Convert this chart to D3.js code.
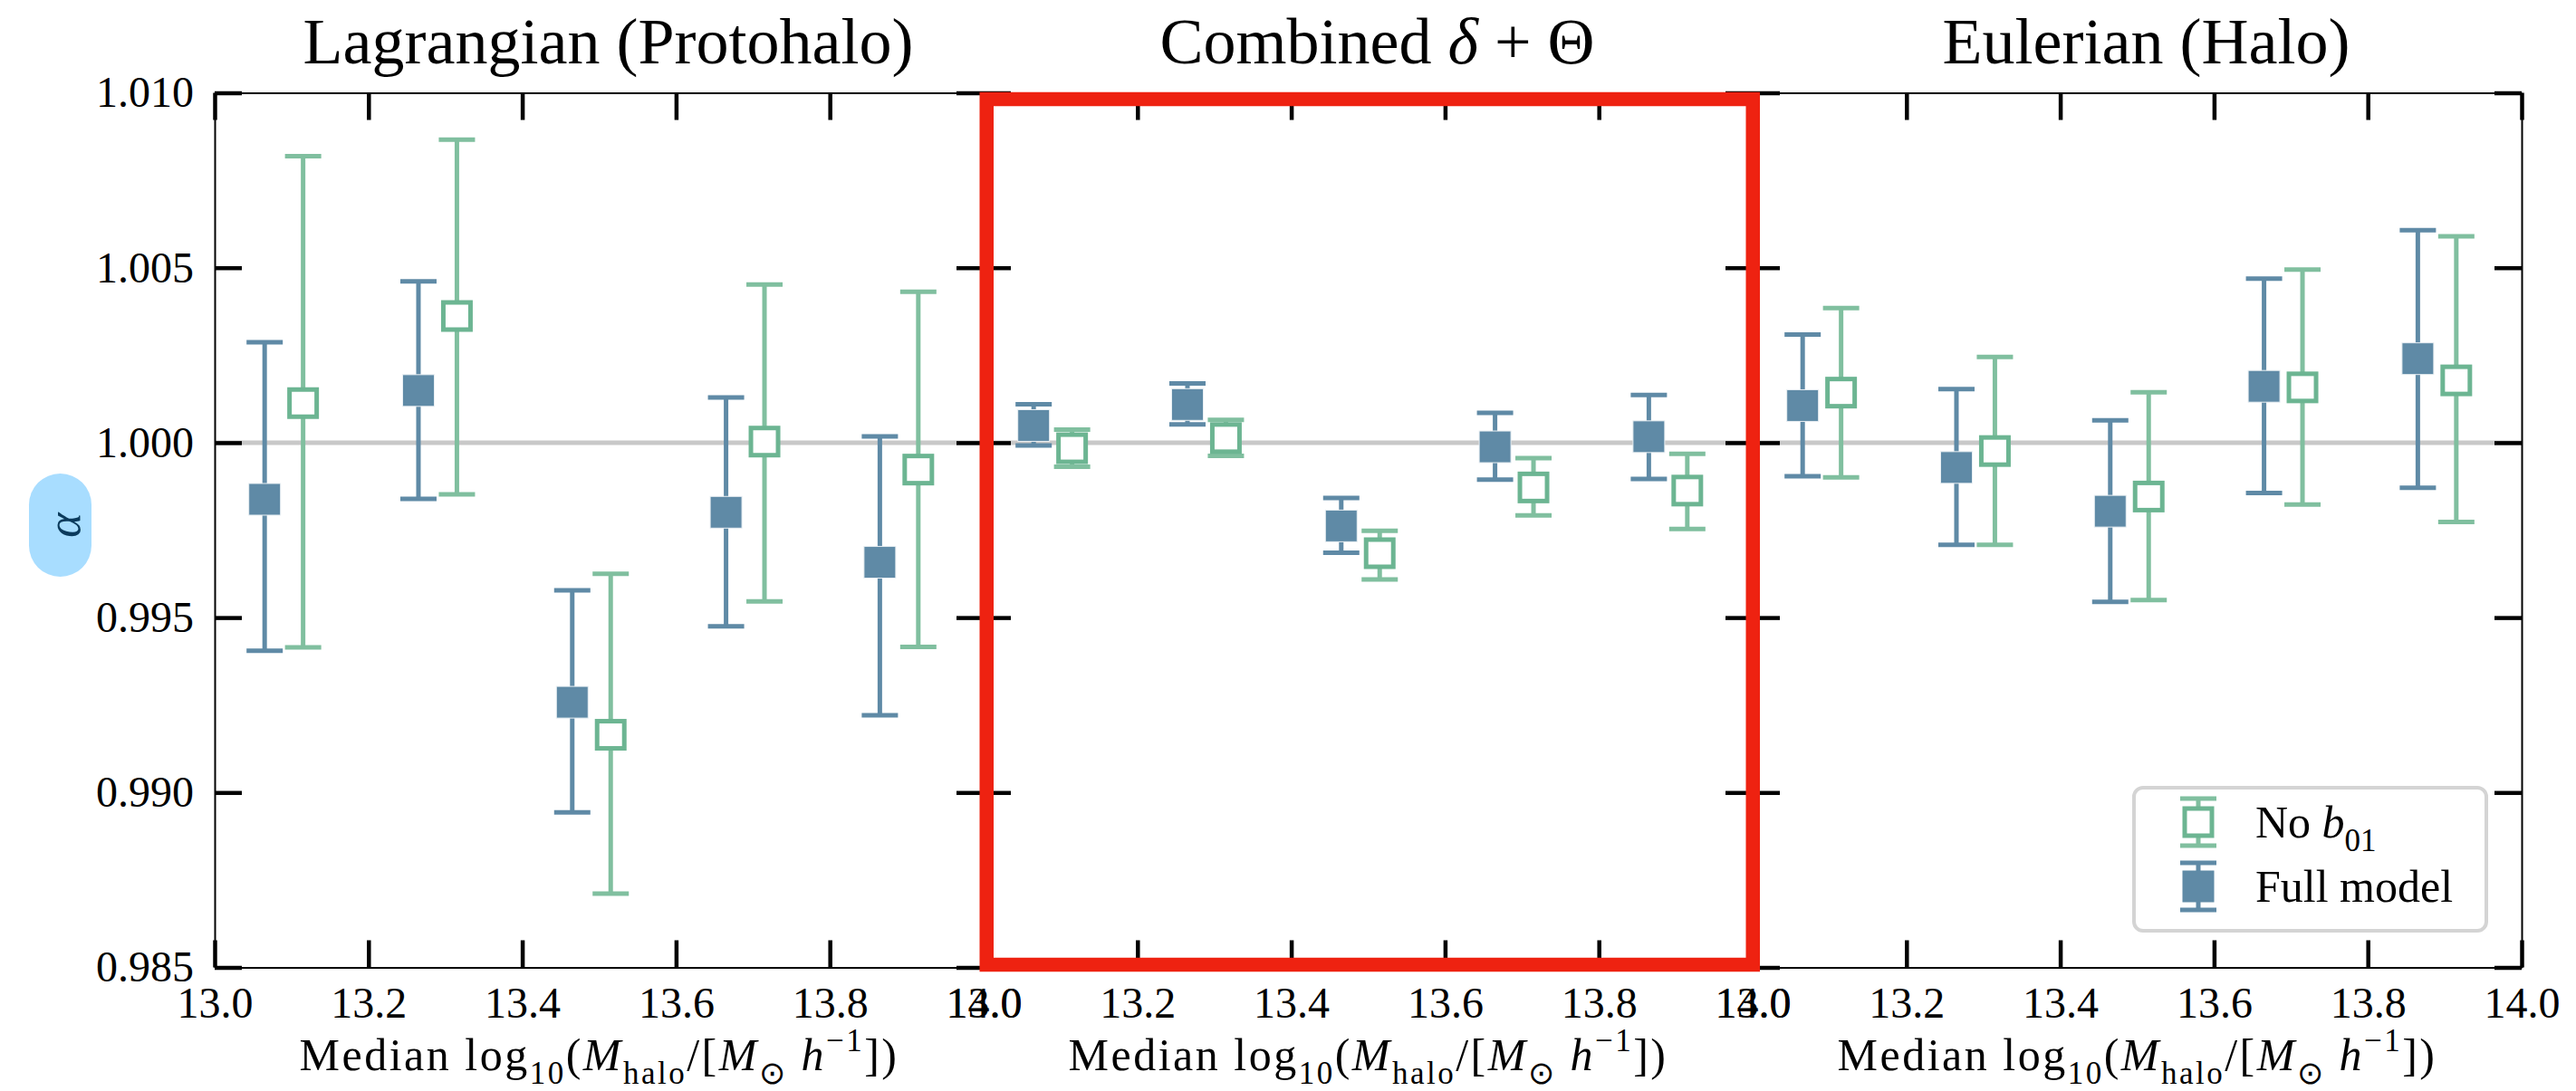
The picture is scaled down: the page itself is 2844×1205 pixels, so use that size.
<!doctype html>
<head>
  <meta charset="utf-8">
  <script src="https://cdnjs.cloudflare.com/ajax/libs/d3/7.8.2/d3.min.js"></script>
</head>
<style>
    body { margin: 0; background: #fff; }
    svg text, svg tspan { font-family: "Liberation Serif", serif; white-space: pre; }
</style>
<body>
    <div id="chart"></div>
    <script>
        // Datos
        const panelTitles = ["Lagrangian (Protohalo)", "Combined δ + Θ", "Eulerian (Halo)"];
        const xTicks = [13.0, 13.2, 13.4, 13.6, 13.8, 14.0];
        const yTicks = [0.985, 0.990, 0.995, 1.000, 1.005, 1.010];
        const seriesNames = ["No b01", "Full model"];

        const massFull = [13.065, 13.265, 13.465, 13.665, 13.865];
        const massNoB01 = [13.115, 13.315, 13.515, 13.715, 13.915];

        // una fila por panel: Lagrangian, Combined, Eulerian
        const alphaFull = [
            [0.99838, 1.00149, 0.99258, 0.99801, 0.99658],
            [1.00049, 1.00109, 0.99762, 0.99988, 1.00017],
            [1.00106, 0.99929, 0.99804, 1.00161, 1.00240],
        ];
        const hiFull = [
            [1.00287, 1.00461, 0.99578, 1.00129, 1.00018],
            [1.00110, 1.00169, 0.99842, 1.00085, 1.00136],
            [1.00309, 1.00153, 1.00064, 1.00469, 1.00607],
        ];
        const loFull = [
            [0.99405, 0.99839, 0.98943, 0.99475, 0.99221],
            [0.99992, 1.00052, 0.99685, 0.99894, 0.99896],
            [0.99904, 0.99708, 0.99545, 0.99856, 0.99871],
        ];
        const alphaNoB01 = [
            [1.00113, 1.00362, 0.99165, 1.00003, 0.99923],
            [0.99984, 1.00013, 0.99684, 0.99872, 0.99863],
            [1.00143, 0.99976, 0.99846, 1.00158, 1.00178],
        ];
        const hiNoB01 = [
            [1.00819, 1.00866, 0.99625, 1.00452, 1.00431],
            [1.00037, 1.00065, 0.99748, 0.99956, 0.99968],
            [1.00385, 1.00245, 1.00144, 1.00495, 1.00590],
        ];
        const loNoB01 = [
            [0.99415, 0.99852, 0.98711, 0.99546, 0.99416],
            [0.99931, 0.99962, 0.99609, 0.99792, 0.99753],
            [0.99901, 0.99708, 0.99550, 0.99823, 0.99773],
        ];

        const W = 2844, H = 1205;
        const panelLeft = 237, panelW = 849;
        const blue = '#5f8aa6', green = '#80bf9f', greenEdge = '#6cb592';
        const serif = '"Liberation Serif", serif';

        const svg = d3.select('#chart').append('svg')
            .attr('width', W)
            .attr('height', H)
            .attr('font-family', serif);

        const y = d3.scaleLinear().domain([0.985, 1.010]).range([1068.5, 102.5]);

        function drawSeries(g, x, mass, vals, lo, hi, color, open) {
            const pts = mass.map((m, i) => ({m, v: vals[i], lo: lo[i], hi: hi[i]}));
            const s = g.append('g');
            s.selectAll('.bar').data(pts).enter().append('line')
                .attr('x1', d => x(d.m)).attr('x2', d => x(d.m))
                .attr('y1', d => y(d.lo)).attr('y2', d => y(d.hi))
                .attr('stroke', color).attr('stroke-width', 5);
            ['lo', 'hi'].forEach(k => {
                s.selectAll('.cap-' + k).data(pts).enter().append('line')
                    .attr('x1', d => x(d.m) - 20).attr('x2', d => x(d.m) + 20)
                    .attr('y1', d => y(d[k])).attr('y2', d => y(d[k]))
                    .attr('stroke', color).attr('stroke-width', 5);
            });
            if (open) {
                s.selectAll('.mk').data(pts).enter().append('rect')
                    .attr('x', d => x(d.m) - 15).attr('y', d => y(d.v) - 15)
                    .attr('width', 30).attr('height', 30)
                    .attr('fill', '#fff').attr('stroke', greenEdge).attr('stroke-width', 5);
            } else {
                s.selectAll('.mk').data(pts).enter().append('rect')
                    .attr('x', d => x(d.m) - 17.5).attr('y', d => y(d.v) - 17.5)
                    .attr('width', 35).attr('height', 35)
                    .attr('fill', color).attr('stroke', '#e9eff3').attr('stroke-width', 1);
            }
        }

        function styleAxis(a) {
            a.attr('font-size', 48).attr('font-family', serif);
            a.select('.domain').attr('stroke', '#000').attr('stroke-width', 2);
            a.selectAll('.tick line').attr('stroke', '#000').attr('stroke-width', 4.5);
            a.selectAll('.tick text').attr('fill', '#000');
        }

        // texto con subindices / superindices mediante tspans
        function richText(t, parts, size) {
            let shift = 0;
            parts.forEach(p => {
                const target = p.sub ? 0.3 * size : (p.sup ? -0.42 * size : 0);
                const ts = t.append('tspan').text(p.t)
                    .attr('dy', target - shift)
                    .attr('font-size', (p.sub || p.sup) ? size * 0.7 : size);
                if (p.it) ts.attr('font-style', 'italic');
                shift = target;
            });
        }

        const xLabelParts = [
            {t: 'Median log'}, {t: '10', sub: true}, {t: '('}, {t: 'M', it: true},
            {t: 'halo', sub: true}, {t: '/['}, {t: 'M', it: true}, {t: '⊙', sub: true},
            {t: ' '}, {t: 'h', it: true}, {t: '−1', sup: true}, {t: '])'},
        ];
        const titleParts = [
            [{t: 'Lagrangian (Protohalo)'}],
            [{t: 'Combined '}, {t: 'δ', it: true}, {t: ' + Θ'}],
            [{t: 'Eulerian (Halo)'}],
        ];

        panelTitles.forEach((title, p) => {
            const x0 = panelLeft + p * panelW;
            const x = d3.scaleLinear().domain([13, 14]).range([x0, x0 + panelW]);
            const g = svg.append('g');

            // linea de referencia alpha = 1
            g.append('line')
                .attr('x1', x(13)).attr('x2', x(14))
                .attr('y1', y(1)).attr('y2', y(1))
                .attr('stroke', '#c8c8c8').attr('stroke-width', 5);

            drawSeries(g, x, massNoB01, alphaNoB01[p], loNoB01[p], hiNoB01[p], green, true);
            drawSeries(g, x, massFull, alphaFull[p], loFull[p], hiFull[p], blue, false);

            // ejes (ticks hacia dentro)
            g.append('g').attr('transform', `translate(0,${y(0.985)})`)
                .call(d3.axisBottom(x).tickValues(xTicks).tickFormat(d3.format('.1f'))
                    .tickSizeInner(-30).tickSizeOuter(0).tickPadding(21))
                .call(styleAxis);
            g.append('g').attr('transform', `translate(0,${y(1.010)})`)
                .call(d3.axisTop(x).tickValues(xTicks).tickFormat('')
                    .tickSizeInner(-30).tickSizeOuter(0))
                .call(styleAxis);
            g.append('g').attr('transform', `translate(${x(13)},0)`)
                .call(d3.axisLeft(y).tickValues(yTicks).tickFormat(p === 0 ? d3.format('.3f') : '')
                    .tickSizeInner(-30).tickSizeOuter(0).tickPadding(23))
                .call(styleAxis);
            g.append('g').attr('transform', `translate(${x(14)},0)`)
                .call(d3.axisRight(y).tickValues(yTicks).tickFormat('')
                    .tickSizeInner(-30).tickSizeOuter(0))
                .call(styleAxis);

            // titulo
            const tt = g.append('text')
                .attr('x', (x(13) + x(14)) / 2 + 10).attr('y', 70)
                .attr('text-anchor', 'middle').attr('fill', '#000');
            richText(tt, titleParts[p], 72);

            // etiqueta eje x
            const xl = g.append('text')
                .attr('x', (x(13) + x(14)) / 2).attr('y', 1182)
                .attr('text-anchor', 'middle').attr('fill', '#000')
                .attr('letter-spacing', 2.5);
            richText(xl, xLabelParts, 50);

            if (p === 2) {
                // leyenda
                const lg = g.append('g');
                lg.append('rect')
                    .attr('x', 2356).attr('y', 870).attr('width', 389).attr('height', 158)
                    .attr('rx', 10).attr('fill', '#fff')
                    .attr('stroke', '#d4d4d4').attr('stroke-width', 4);
                const items = [
                    {cy: 908, color: green, open: true, parts: [{t: 'No '}, {t: 'b', it: true}, {t: '01', sub: true}]},
                    {cy: 979, color: blue, open: false, parts: [{t: seriesNames[1]}]},
                ];
                items.forEach(it => {
                    const mx = 2427;
                    lg.append('line').attr('x1', mx).attr('x2', mx)
                        .attr('y1', it.cy - 26).attr('y2', it.cy + 26)
                        .attr('stroke', it.color).attr('stroke-width', 5);
                    [-26, 26].forEach(o => lg.append('line')
                        .attr('x1', mx - 20).attr('x2', mx + 20)
                        .attr('y1', it.cy + o).attr('y2', it.cy + o)
                        .attr('stroke', it.color).attr('stroke-width', 5));
                    if (it.open) {
                        lg.append('rect').attr('x', mx - 15).attr('y', it.cy - 15)
                            .attr('width', 30).attr('height', 30)
                            .attr('fill', '#fff').attr('stroke', greenEdge).attr('stroke-width', 5);
                    } else {
                        lg.append('rect').attr('x', mx - 17.5).attr('y', it.cy - 17.5)
                            .attr('width', 35).attr('height', 35).attr('fill', it.color);
                    }
                    const lt = lg.append('text').attr('x', 2490).attr('y', it.cy + 17)
                        .attr('fill', '#000');
                    richText(lt, it.parts, 50);
                });
            }
        });

        // etiqueta eje y con fondo
        svg.append('rect')
            .attr('x', 32).attr('y', 523).attr('width', 69).attr('height', 114)
            .attr('rx', 34.5).attr('fill', '#a8ddff');
        svg.append('text')
            .attr('transform', 'translate(70,580) rotate(-90)')
            .attr('text-anchor', 'middle').attr('dominant-baseline', 'central')
            .attr('font-size', 52).attr('font-style', 'italic').attr('fill', '#0b3a5c')
            .text('α');

        // recuadro rojo de resalte
        svg.append('rect')
            .attr('x', 1089.25).attr('y', 109.5).attr('width', 846).attr('height', 956)
            .attr('fill', 'none').attr('stroke', '#ee2211').attr('stroke-width', 15.5);
    </script>
</body>
